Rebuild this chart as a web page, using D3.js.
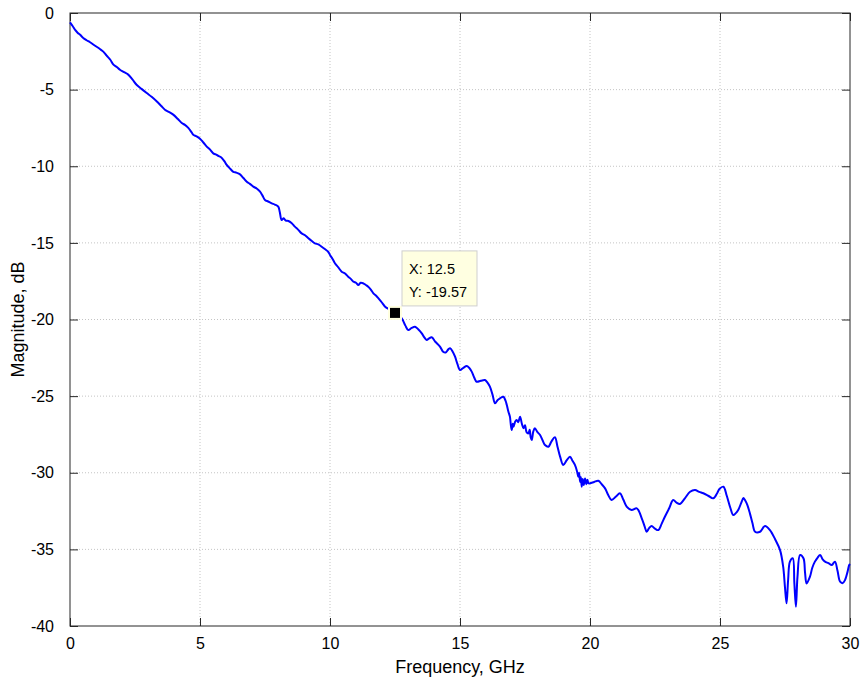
<!DOCTYPE html>
<html>
<head>
<meta charset="utf-8">
<script src="https://cdn.jsdelivr.net/npm/d3@7"></script>
<style>
  html, body { margin: 0; padding: 0; background: #fff; }
  svg { display: block; font-family: "Liberation Sans", Arial, Helvetica, sans-serif; }
</style>
</head>
<body>
<svg id="chart" width="860" height="682"></svg>
<script>
// ---- Data ----
const freqGHz = [
  0.00,0.10,0.19,0.30,0.38,0.51,0.64,0.77,0.95,1.15,1.28,1.41,1.55,1.67,1.80,1.92,2.08,2.24,2.40,2.56,
  2.75,2.95,3.14,3.33,3.50,3.65,3.80,3.97,4.15,4.30,4.42,4.55,4.65,4.74,4.87,5.00,5.13,5.26,5.38,5.51,
  5.60,5.70,5.83,5.95,6.02,6.09,6.18,6.28,6.40,6.54,6.66,6.80,6.92,7.05,7.18,7.31,7.40,7.50,7.62,7.76,
  7.88,8.01,8.07,8.14,8.22,8.30,8.40,8.52,8.65,8.78,8.91,9.04,9.17,9.30,9.42,9.55,9.68,9.80,9.93,10.00,
  10.10,10.19,10.32,10.45,10.58,10.70,10.80,10.90,11.00,11.09,11.18,11.28,11.38,11.47,11.57,11.67,11.80,11.92,12.02,12.12,
  12.30,12.50,12.62,12.76,12.90,13.01,13.14,13.27,13.40,13.53,13.62,13.72,13.80,13.91,14.05,14.23,14.35,14.45,14.55,14.62,
  14.72,14.81,14.90,15.00,15.13,15.26,15.35,15.45,15.55,15.64,15.80,15.96,16.05,16.15,16.25,16.35,16.45,16.54,16.67,16.75,
  16.80,16.86,16.92,16.95,16.99,17.03,17.06,17.12,17.18,17.24,17.31,17.38,17.44,17.50,17.56,17.63,17.68,17.72,17.76,17.82,
  17.88,17.98,18.08,18.18,18.27,18.40,18.52,18.65,18.75,18.85,18.97,19.10,19.23,19.32,19.42,19.50,19.55,19.58,19.62,19.65,
  19.68,19.72,19.76,19.81,19.86,19.90,19.94,20.00,20.16,20.32,20.45,20.58,20.70,20.83,21.00,21.15,21.28,21.41,21.60,21.80,
  21.99,22.10,22.18,22.28,22.37,22.50,22.63,22.75,22.88,23.05,23.20,23.33,23.46,23.65,23.85,24.04,24.20,24.36,24.55,24.74,
  24.90,24.97,25.13,25.26,25.40,25.51,25.60,25.70,25.82,25.90,25.96,26.05,26.15,26.25,26.35,26.54,26.73,26.92,27.12,27.31,
  27.43,27.50,27.56,27.62,27.69,27.80,27.86,27.92,27.98,28.08,28.21,28.27,28.33,28.46,28.55,28.65,28.75,28.85,28.95,29.04,
  29.17,29.30,29.42,29.52,29.62,29.72,29.81,29.90,29.97,30.00
];
const magnitudeDB = [
  -0.61,-0.85,-1.09,-1.30,-1.41,-1.63,-1.78,-1.91,-2.12,-2.35,-2.52,-2.78,-3.05,-3.37,-3.52,-3.70,-3.86,-4.02,-4.33,-4.68,
  -4.95,-5.22,-5.47,-5.76,-6.05,-6.31,-6.45,-6.63,-6.92,-7.18,-7.30,-7.50,-7.72,-7.94,-8.05,-8.20,-8.45,-8.72,-8.90,-9.16,
  -9.22,-9.32,-9.44,-9.70,-9.90,-10.03,-10.20,-10.36,-10.42,-10.53,-10.75,-11.01,-11.15,-11.33,-11.45,-11.66,-11.90,-12.20,-12.30,-12.42,
  -12.50,-12.64,-13.00,-13.51,-13.40,-13.55,-13.57,-13.70,-13.94,-14.15,-14.38,-14.50,-14.70,-14.88,-15.03,-15.10,-15.25,-15.40,-15.58,-15.79,
  -16.05,-16.33,-16.60,-16.88,-17.00,-17.21,-17.35,-17.53,-17.60,-17.75,-17.60,-17.64,-17.75,-17.86,-18.05,-18.29,-18.50,-18.73,-18.95,-19.16,
  -19.35,-19.57,-19.70,-19.92,-20.40,-20.69,-20.55,-20.47,-20.65,-20.90,-21.15,-21.34,-21.25,-21.16,-21.45,-21.77,-22.10,-22.15,-21.95,-21.88,
  -22.10,-22.43,-22.90,-23.30,-23.15,-23.03,-23.15,-23.40,-23.80,-24.06,-24.00,-23.95,-24.10,-24.38,-24.90,-25.47,-25.25,-25.14,-25.04,-25.30,
  -25.58,-26.00,-26.34,-26.80,-27.21,-26.80,-27.00,-26.67,-26.55,-26.70,-26.34,-26.80,-27.10,-26.90,-27.35,-27.43,-27.20,-27.70,-27.86,-27.30,
  -27.10,-27.35,-27.54,-27.90,-28.19,-28.30,-27.95,-27.69,-28.30,-28.95,-29.49,-29.20,-28.95,-29.20,-29.49,-29.90,-30.26,-30.00,-30.60,-30.30,
  -30.91,-30.40,-30.80,-30.37,-30.75,-30.45,-30.69,-30.69,-30.60,-30.52,-30.75,-31.02,-31.45,-31.78,-31.55,-31.34,-31.75,-32.21,-32.43,-32.32,
  -32.97,-33.50,-33.85,-33.60,-33.47,-33.65,-33.74,-33.35,-32.87,-32.30,-31.78,-31.95,-32.04,-31.67,-31.24,-31.13,-31.25,-31.34,-31.50,-31.67,
  -31.30,-31.08,-30.91,-31.50,-32.30,-32.76,-32.65,-32.43,-31.95,-31.65,-31.78,-32.10,-32.65,-33.30,-33.85,-33.85,-33.47,-33.74,-34.34,-35.05,
  -36.13,-37.50,-38.52,-37.00,-35.80,-35.58,-37.20,-38.74,-36.80,-35.37,-35.58,-36.50,-37.22,-36.78,-36.20,-35.80,-35.55,-35.37,-35.65,-35.80,
  -35.90,-36.02,-35.80,-36.40,-37.11,-37.20,-37.00,-36.50,-36.02,-35.95
];
const xTicks = [0, 5, 10, 15, 20, 25, 30];
const yTicks = [0, -5, -10, -15, -20, -25, -30, -35, -40];
const dataTipX = 12.5;
const dataTipY = -19.57;
const xLabel = "Frequency, GHz";
const yLabel = "Magnitude, dB";

// ---- Layout ----
const svg = d3.select("#chart");
const m = { left: 70, top: 13, right: 10, bottom: 56 };
const W = 860 - m.left - m.right;   // 780
const H = 682 - m.top - m.bottom;   // 613

const x = d3.scaleLinear().domain([0, 30]).range([0, W]);
const y = d3.scaleLinear().domain([-40, 0]).range([H, 0]);

const g = svg.append("g").attr("transform", `translate(${m.left},${m.top})`);

// grid
g.append("g").selectAll("line").data(xTicks.filter(t => t > 0 && t < 30)).join("line")
  .attr("x1", d => x(d)).attr("x2", d => x(d)).attr("y1", 0).attr("y2", H)
  .attr("stroke", "#c4c4c4").attr("stroke-width", 1).attr("stroke-dasharray", "1,2");
g.append("g").selectAll("line").data(yTicks.filter(t => t > -40 && t < 0)).join("line")
  .attr("y1", d => y(d)).attr("y2", d => y(d)).attr("x1", 0).attr("x2", W)
  .attr("stroke", "#c4c4c4").attr("stroke-width", 1).attr("stroke-dasharray", "1,2");

// axes (ticks inward, MATLAB-style box)
const axisColor = "#262626";
const tickLen = 8;
function styleAxis(sel) {
  sel.select(".domain").remove();
  sel.selectAll(".tick line").attr("stroke", axisColor);
  sel.selectAll(".tick text").attr("fill", "#000").style("font-size", "16px");
}
const xAxisB = g.append("g").attr("transform", `translate(0,${H})`)
  .call(d3.axisBottom(x).tickValues(xTicks).tickSizeInner(-tickLen).tickSizeOuter(0).tickPadding(12).tickFormat(d3.format("d")));
styleAxis(xAxisB);
const xAxisT = g.append("g")
  .call(d3.axisTop(x).tickValues(xTicks).tickSizeInner(-tickLen).tickSizeOuter(0).tickFormat(""));
styleAxis(xAxisT);
const yAxisL = g.append("g")
  .call(d3.axisLeft(y).tickValues(yTicks).tickSizeInner(-tickLen).tickSizeOuter(0).tickPadding(16).tickFormat(d3.format("d")));
styleAxis(yAxisL);
yAxisL.selectAll(".tick text").text(d => d === 0 ? "0" : String(d));
const yAxisR = g.append("g").attr("transform", `translate(${W},0)`)
  .call(d3.axisRight(y).tickValues(yTicks).tickSizeInner(-tickLen).tickSizeOuter(0).tickFormat(""));
styleAxis(yAxisR);

// frame
g.append("rect").attr("x", 0).attr("y", 0).attr("width", W).attr("height", H)
  .attr("fill", "none").attr("stroke", axisColor).attr("stroke-width", 1);

// line
const pts = freqGHz.map((f, i) => [f, magnitudeDB[i]]);
g.append("path").datum(pts)
  .attr("fill", "none").attr("stroke", "#0000ff").attr("stroke-width", 2)
  .attr("stroke-linejoin", "round")
  .attr("d", d3.line().curve(d3.curveCatmullRom.alpha(0.5)).x(d => x(d[0])).y(d => y(d[1])));

// data tip marker
const mx = x(dataTipX), my = y(dataTipY);
g.append("rect").attr("x", mx - 7).attr("y", my - 7).attr("width", 14).attr("height", 14)
  .attr("fill", "#ffffe0");
g.append("rect").attr("x", mx - 5).attr("y", my - 5).attr("width", 10).attr("height", 10)
  .attr("fill", "#000");

// data tip box
const bx = mx + 7, by = my - 62;
g.append("rect").attr("x", bx).attr("y", by).attr("width", 75).attr("height", 55)
  .attr("fill", "#ffffe1").attr("stroke", "#cfcfcf").attr("stroke-width", 1);
g.append("text").attr("x", bx + 7).attr("y", by + 23).style("font-size", "14.5px").attr("fill", "#000")
  .text("X: " + dataTipX);
g.append("text").attr("x", bx + 7).attr("y", by + 46).style("font-size", "14.5px").attr("fill", "#000")
  .text("Y: " + dataTipY);

// axis labels
svg.append("text").attr("x", m.left + W / 2).attr("y", 673).attr("text-anchor", "middle")
  .style("font-size", "18px").attr("fill", "#000").text(xLabel);
svg.append("text").attr("transform", `translate(24,${m.top + H / 2}) rotate(-90)`)
  .attr("text-anchor", "middle").style("font-size", "18px").attr("fill", "#000").text(yLabel);
</script>
</body>
</html>
